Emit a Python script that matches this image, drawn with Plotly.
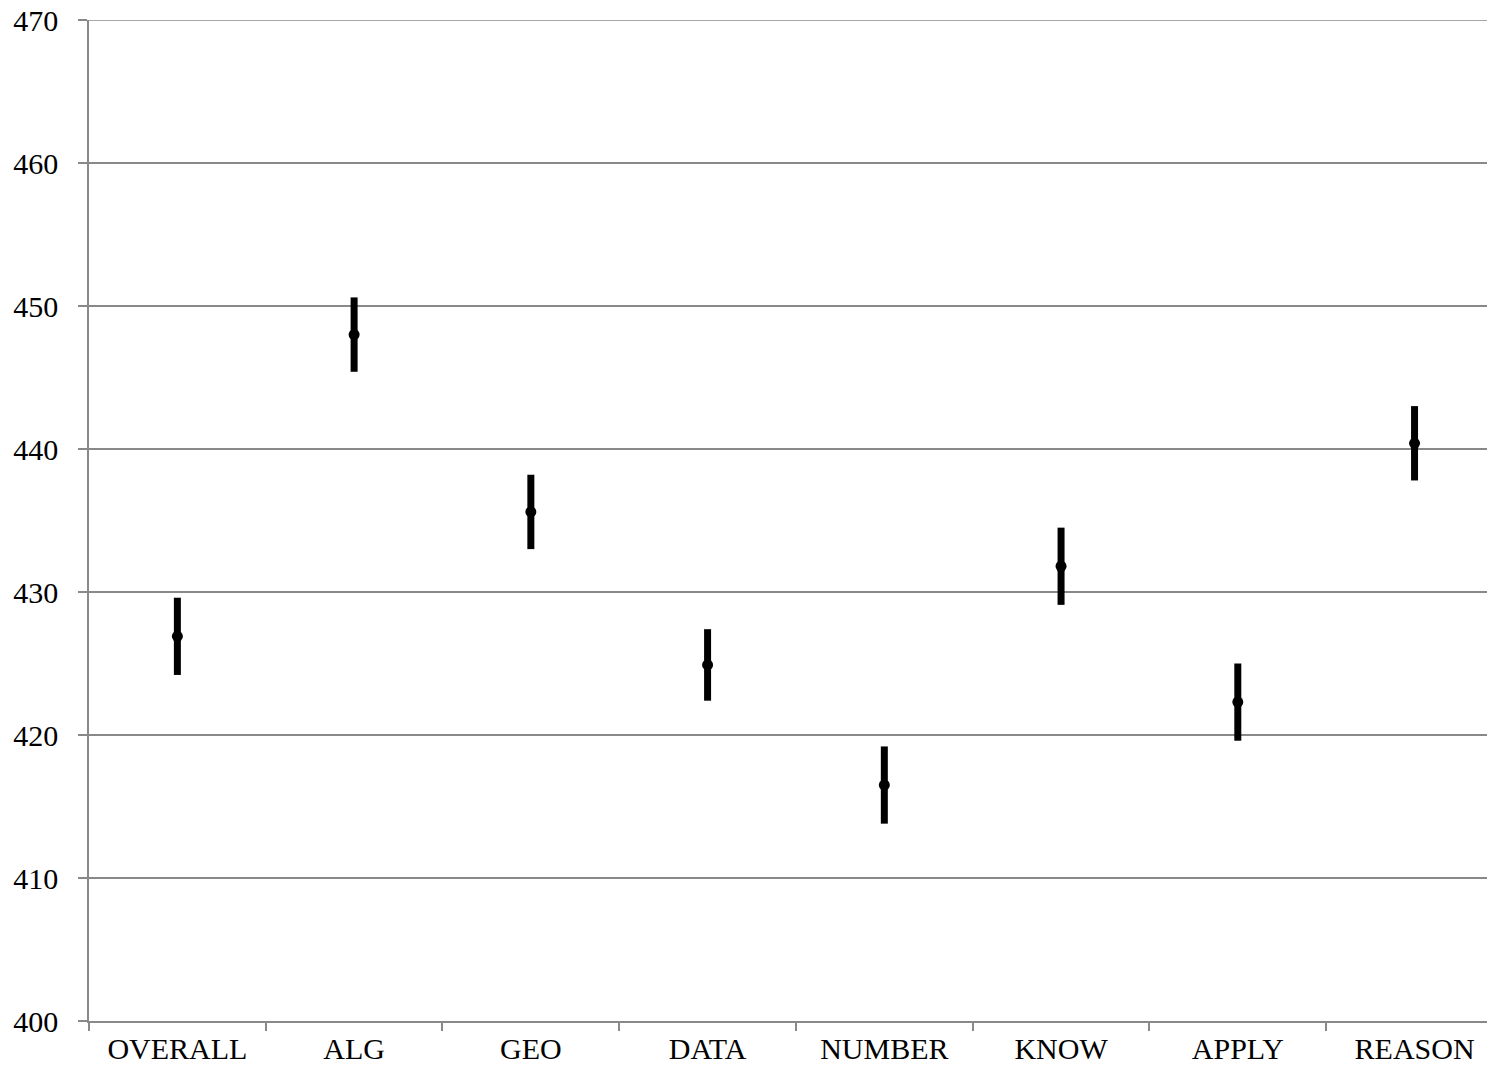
import plotly.graph_objects as go

categories = ["OVERALL", "ALG", "GEO", "DATA", "NUMBER", "KNOW", "APPLY", "REASON"]
means = [426.9, 448.0, 435.6, 424.9, 416.5, 431.8, 422.3, 440.4]
errors = [2.7, 2.6, 2.6, 2.5, 2.7, 2.7, 2.7, 2.6]
y_min, y_max = 400, 470

fig = go.Figure()
fig.add_trace(go.Scatter(
    x=categories, y=means, mode="markers",
    marker=dict(color="black", size=11),
    error_y=dict(type="data", array=errors, visible=True, thickness=7, width=0, color="black"),
    showlegend=False,
))

# top gridline at the range edge
fig.add_shape(type="line", xref="paper", yref="y", x0=0, x1=1, y0=y_max, y1=y_max,
              line=dict(color="#898989", width=1.5), layer="below")

font = dict(family="Liberation Serif, Times New Roman, serif", size=30, color="black")
fig.update_layout(
    width=1479, height=1063,
    margin=dict(l=81, r=0, t=12, b=50, autoexpand=False),
    paper_bgcolor="white", plot_bgcolor="white",
    font=font,
    xaxis=dict(
        type="category", range=[-0.5, 7.41], tickson="boundaries",
        ticks="outside", ticklen=8, tickcolor="#898989", tickwidth=1.5,
        showline=True, linecolor="#898989", linewidth=1.5,
        showgrid=False, zeroline=False, tickfont=font, automargin=False,
    ),
    yaxis=dict(
        range=[y_min, y_max], dtick=10, tick0=400,
        ticks="outside", ticklen=9, tickcolor="#898989", tickwidth=1.5,
        showline=True, linecolor="#898989", linewidth=1.5,
        showgrid=True, gridcolor="#898989", gridwidth=1.5,
        zeroline=False, tickfont=font, ticklabelstandoff=14,
        ticklabeloverflow="allow", automargin=False,
    ),
)
fig.write_html("out.html")
